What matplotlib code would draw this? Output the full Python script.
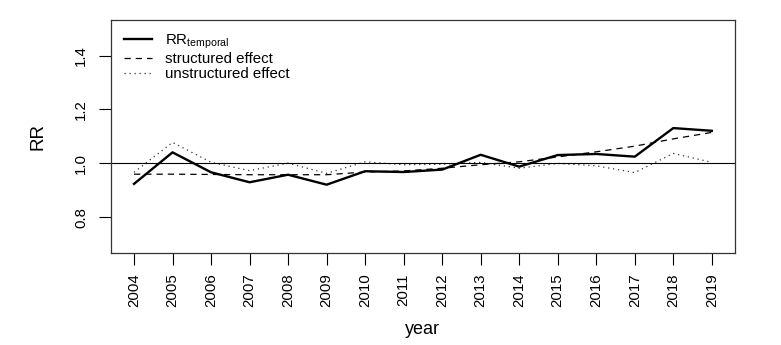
import numpy as np
import matplotlib
matplotlib.use("Agg")
import matplotlib.pyplot as plt

plt.rcParams['font.family'] = ['Liberation Sans', 'DejaVu Sans']
plt.rcParams['mathtext.fontset'] = 'custom'
plt.rcParams['mathtext.rm'] = 'Liberation Sans'

# years and relative risks
years = list(range(2004, 2020))
rr_temporal = [0.924, 1.041, 0.967, 0.930, 0.958, 0.921, 0.971, 0.968, 0.977,
               1.032, 0.988, 1.031, 1.035, 1.025, 1.131, 1.121]
structured = [0.960, 0.960, 0.959, 0.958, 0.958, 0.958, 0.968, 0.972, 0.982,
              0.995, 1.006, 1.024, 1.043, 1.064, 1.091, 1.115]
unstructured = [0.967, 1.078, 1.004, 0.973, 1.001, 0.963, 1.006, 0.995, 0.997,
                1.004, 0.982, 1.000, 0.991, 0.966, 1.037, 1.004]
yticks = [0.8, 1.0, 1.2, 1.4]

fig = plt.figure(figsize=(7.81, 3.45), dpi=100)
ax = fig.add_axes([0.142, 0.267, 0.799, 0.675])

ax.plot(years, rr_temporal, color='black', lw=1.7, label=r'$\mathrm{RR}_{\mathrm{temporal}}$')
ax.plot(years, structured, color='black', lw=0.9, linestyle=(0, (5, 4)), label='structured effect')
ax.plot(years, unstructured, color='#333333', lw=0.9, linestyle=(0, (1, 3)), label='unstructured effect')
ax.axhline(1.0, color='black', lw=0.8)

ax.set_xlim(2003.4, 2019.6)
ax.set_ylim(0.668, 1.532)
ax.set_xticks(years)
ax.set_xticklabels([str(y) for y in years], rotation=90)
ax.set_yticks(yticks)
ax.set_yticklabels(['%.1f' % v for v in yticks], rotation=90, va='center')
ax.tick_params(axis='both', labelsize=10.8, length=8.5, width=0.8, direction='out')
ax.tick_params(axis='x', pad=6)
ax.tick_params(axis='y', pad=8)
for s in ax.spines.values():
    s.set_linewidth(0.9)
    s.set_color('#333333')

ax.set_xlabel('year', fontsize=13, labelpad=10)
ax.set_ylabel('RR', fontsize=13.5, labelpad=20)

ax.legend(loc='upper left', frameon=False, fontsize=10.8, handlelength=1.9,
          handletextpad=0.85, labelspacing=0.05, borderaxespad=0.45)

fig.savefig('out.png', dpi=100)
